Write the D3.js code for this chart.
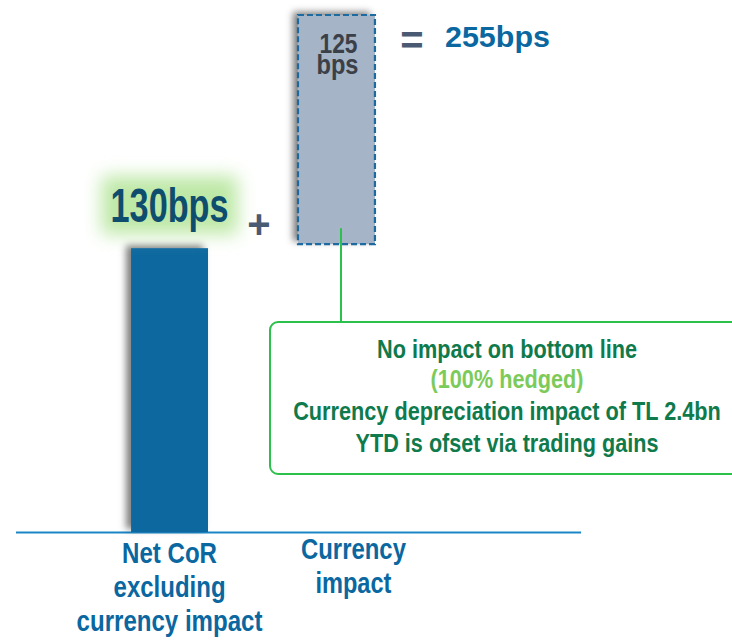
<!DOCTYPE html>
<html>
<head>
<meta charset="utf-8">
<script src="https://cdn.jsdelivr.net/npm/d3@7"></script>
<style>
  body { margin: 0; background: #fff; }
  svg { display: block; }
  text { font-family: "Liberation Sans", Arial, sans-serif; font-weight: bold; }
</style>
</head>
<body>
<div id="chart"></div>
<script>
// values
const categories = ["Net CoR excluding currency impact", "Currency impact"];
const categoryLines = [["Net CoR", "excluding", "currency impact"], ["Currency", "impact"]];
const barStart = [0, 130];
const barEnd = [130, 255];
const barValues = [130, 125];
const totalValue = 255;
const noteLines = ["No impact on bottom line", "(100% hedged)", "Currency depreciation impact of TL 2.4bn", "YTD is ofset via trading gains"];
const noteColors = ["#0f7a4c", "#7ccb5a", "#0f7a4c", "#0f7a4c"];

const width = 732, height = 640;
const svg = d3.select("#chart").append("svg")
    .attr("width", width)
    .attr("height", height);

const defs = svg.append("defs");
defs.append("filter").attr("id", "shadow")
    .attr("x", "-30%").attr("y", "-10%").attr("width", "160%").attr("height", "130%")
  .append("feDropShadow")
    .attr("dx", -5).attr("dy", -3).attr("stdDeviation", 3.5)
    .attr("flood-color", "#000").attr("flood-opacity", 0.5);
defs.append("filter").attr("id", "glow")
    .attr("x", "-30%").attr("y", "-50%").attr("width", "160%").attr("height", "200%")
  .append("feGaussianBlur").attr("stdDeviation", 9);

// the slide is not drawn to scale, a soft power scale keeps its proportions
const x = d3.scaleBand().domain(categories).range([86, 420]).paddingInner(0.539).paddingOuter(0.27);
const y = d3.scalePow().exponent(0.89).domain([0, totalValue]).range([532, 15]);

// narrow-font look: pick the font size that gives the wanted width,
// then stretch it vertically back to the wanted height
function narrowText(parent, txt, cx, cy, w, fs, anchor) {
    const t = parent.append("text")
        .attr("text-anchor", anchor || "middle")
        .attr("font-size", fs)
        .text(txt);
    const len = t.node().getComputedTextLength();
    const k = w / len;
    t.attr("font-size", fs * k)
     .attr("transform", `translate(${cx},${cy}) scale(1,${1 / k})`);
    return t;
}

// baseline
svg.append("line")
    .attr("x1", 16).attr("x2", 581)
    .attr("y1", y(0) + 0.5).attr("y2", y(0) + 0.5)
    .attr("stroke", "#1a86c6").attr("stroke-width", 2);

// first bar (solid)
svg.append("rect")
    .attr("x", x(categories[0]))
    .attr("y", y(barEnd[0]))
    .attr("width", x.bandwidth())
    .attr("height", y(barStart[0]) - y(barEnd[0]))
    .attr("fill", "#0a67a0")
    .attr("filter", "url(#shadow)");

// floating bar (dashed)
const fh = y(barStart[1]) - y(barEnd[1]) - 4;
svg.append("rect")
    .attr("x", x(categories[1]))
    .attr("y", y(barEnd[1]))
    .attr("width", x.bandwidth())
    .attr("height", fh)
    .attr("fill", "#a5b4c6")
    .attr("filter", "url(#shadow)");
svg.append("rect")
    .attr("x", x(categories[1]))
    .attr("y", y(barEnd[1]))
    .attr("width", x.bandwidth())
    .attr("height", fh)
    .attr("fill", "none")
    .attr("stroke", "#1c6aa0").attr("stroke-width", 2.2)
    .attr("stroke-dasharray", "6,3");

// label of bar 1 with its green glow
const c0 = x(categories[0]) + x.bandwidth() / 2;
svg.append("rect")
    .attr("x", c0 - 68).attr("y", y(barEnd[0]) - 72)
    .attr("width", 136).attr("height", 58)
    .attr("fill", "#bde8a6")
    .attr("filter", "url(#glow)");
narrowText(svg, barValues[0] + "bps", c0, y(barEnd[0]) - 26, 118, 48)
    .attr("fill", "#0f4d6f");

// label inside the floating bar
const c1 = x(categories[1]) + x.bandwidth() / 2;
narrowText(svg, String(barValues[1]), c1 + 2, y(barEnd[1]) + 38, 38, 28)
    .attr("fill", "#3b4048");
narrowText(svg, "bps", c1 + 1, y(barEnd[1]) + 59, 42, 28)
    .attr("fill", "#3b4048");

// operators
svg.append("text")
    .attr("x", 259).attr("y", 238)
    .attr("text-anchor", "middle")
    .attr("font-size", 40)
    .attr("fill", "#4b5a73")
    .text("+");
svg.append("text")
    .attr("x", 412).attr("y", 54)
    .attr("text-anchor", "middle")
    .attr("font-size", 40)
    .attr("fill", "#4b5a73")
    .text("=");

// total
narrowText(svg, totalValue + "bps", 445, 47, 105, 30, "start")
    .attr("fill", "#0a67a0");

// connector and note box
svg.append("line")
    .attr("x1", 341).attr("x2", 341)
    .attr("y1", y(barStart[1]) - 20).attr("y2", 322)
    .attr("stroke", "#2cc04c").attr("stroke-width", 2);
svg.append("rect")
    .attr("x", 270).attr("y", 322)
    .attr("width", 470).attr("height", 152)
    .attr("rx", 8)
    .attr("fill", "#fff")
    .attr("stroke", "#2cc04c").attr("stroke-width", 2);

const noteWidths = [260, 153, 428, 303];
const noteBase = [358, 388, 420, 452];
noteLines.forEach((line, i) => {
    narrowText(svg, line, 507, noteBase[i], noteWidths[i], 26)
        .attr("fill", noteColors[i]);
});

// category labels
const labelWidths = [[95, 112, 186], [105, 76]];
const labelShift = [0, 17];
categories.forEach((cat, ci) => {
    const cx = x(cat) + x.bandwidth() / 2 + labelShift[ci];
    categoryLines[ci].forEach((line, i) => {
        narrowText(svg, line, cx, (ci === 0 ? 563 : 559) + i * 34, labelWidths[ci][i], 29)
            .attr("fill", "#0a67a0");
    });
});
</script>
</body>
</html>
